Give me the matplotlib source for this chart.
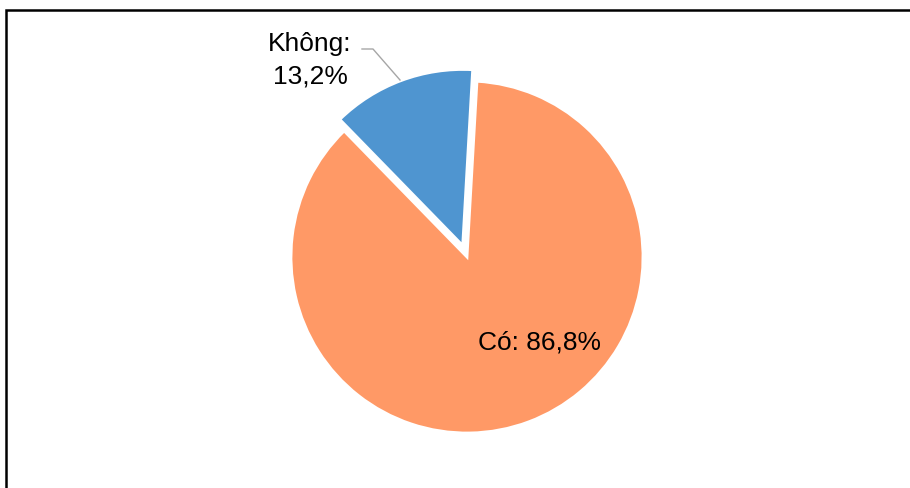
import matplotlib
matplotlib.use('Agg')
import matplotlib.pyplot as plt
from matplotlib.patches import Rectangle

# du lieu
labels = ['Có', 'Không']
values = [86.8, 13.2]
colors = ['#FF9966', '#4F95D0']
explode = [0, 0.07]

W, H = 910, 488
R = 176.0          # ban kinh pie (px)
CX, CY = 467, 257  # tam pie (px, tinh tu tren xuong)

fig = plt.figure(figsize=(W / 100, H / 100), dpi=100)
ax = fig.add_axes([0, 0, 1, 1])

ax.pie(values, colors=colors, explode=explode, startangle=86.75,
       counterclock=False, radius=1,
       wedgeprops=dict(edgecolor='white', linewidth=2))

ax.set_aspect('auto')
ax.set_xlim(-CX / R, (W - CX) / R)
ax.set_ylim(-(H - CY) / R, CY / R)
ax.axis('off')


def px(x, y):
    # pixel -> toa do du lieu
    return (x - CX) / R, (CY - y) / R


font = dict(family=['Liberation Sans', 'DejaVu Sans'], fontsize=19, color='black')

# nhan "Có"
tx, ty = px(540, 342.5)
ax.text(tx, ty, '%s: %s%%' % (labels[0], ('%.1f' % values[0]).replace('.', ',')),
        ha='center', va='center', **font)

# nhan "Không" + duong dan
tx, ty = px(310, 60)
ax.text(tx, ty, '%s:\n%s%%' % (labels[1], ('%.1f' % values[1]).replace('.', ',')),
        ha='center', va='center', linespacing=1.45, **font)
lx, ly = zip(px(362, 49), px(373, 49), px(400, 80))
ax.plot(lx, ly, color='#A6A6A6', lw=1)

# khung
fig.patches.append(Rectangle((6 / W, -0.1), 1.2, 1.1 - 10 / H,
                             transform=fig.transFigure, fill=False,
                             edgecolor='black', lw=1.8))

plt.savefig('out.png', dpi=100)
